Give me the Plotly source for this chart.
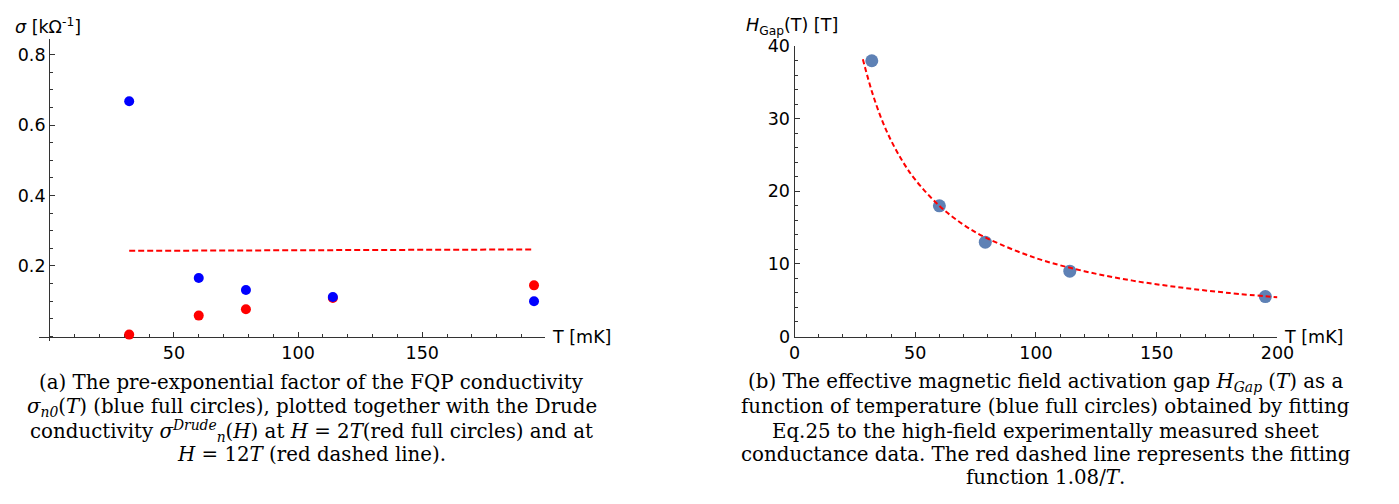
import plotly.graph_objects as go

W, H = 1399, 504

# ---------------- data ----------------
T_points = [32, 60, 79, 114, 195]                      # temperature [mK]
sigma_n0 = [0.668, 0.166, 0.132, 0.112, 0.100]         # blue full circles
sigma_drude_2T = [0.005, 0.059, 0.077, 0.109, 0.145]   # red full circles
T_drude_12T = [32, 195]                                # red dashed line
sigma_drude_12T = [0.243, 0.247]

H_gap = [38.0, 18.0, 13.0, 9.0, 5.5]                   # [T]
T_fit = [28.3, 32, 36, 40, 45, 50, 60, 70, 80, 100, 120, 140, 160, 180, 200]
H_fit = [38.2, 33.8, 30.0, 27.0, 24.0, 21.6, 18.0, 15.4, 13.5, 10.8, 9.0, 7.7, 6.75, 6.0, 5.4]

left_xticks = [50, 100, 150]
left_yticks = [0.2, 0.4, 0.6, 0.8]
right_xticks = [0, 50, 100, 150, 200]
right_yticks = [0, 10, 20, 30, 40]

caption_a = [
    "(a) The pre-exponential factor of the FQP conductivity",
    "<i>σ<sub>n0</sub></i>(<i>T</i>) (blue full circles), plotted together with the Drude",
    "conductivity <i>σ</i><sup><i>Drude</i></sup><sub><i>n</i></sub>(<i>H</i>) at <i>H</i> = 2<i>T</i>(red full circles) and at",
    "<i>H</i> = 12<i>T</i> (red dashed line).",
]
caption_b = [
    "(b) The effective magnetic field activation gap <i>H<sub>Gap</sub></i> (<i>T</i>) as a",
    "function of temperature (blue full circles) obtained by fitting",
    "Eq.25 to the high-field experimentally measured sheet",
    "conductance data. The red dashed line represents the fitting",
    "function 1.08/<i>T</i>.",
]


def px(x):
    return x / W


def py(y):
    return (H - y) / H


AXC = "#333333"
FS = 17.5
TICKFONT = dict(family="DejaVu Sans", size=FS, color="black")

fig = go.Figure()

# left panel
fig.add_trace(go.Scatter(x=T_drude_12T, y=sigma_drude_12T, mode="lines",
                         line=dict(color="#ff0000", width=2, dash="6px,3px"),
                         xaxis="x", yaxis="y", showlegend=False))
fig.add_trace(go.Scatter(x=T_points, y=sigma_drude_2T, mode="markers",
                         marker=dict(color="#ff0000", size=10),
                         xaxis="x", yaxis="y", showlegend=False, cliponaxis=False))
fig.add_trace(go.Scatter(x=T_points, y=sigma_n0, mode="markers",
                         marker=dict(color="#0000ff", size=10),
                         xaxis="x", yaxis="y", showlegend=False, cliponaxis=False))

# right panel
fig.add_trace(go.Scatter(x=T_points, y=H_gap, mode="markers",
                         marker=dict(color="#5e81b5", size=13),
                         xaxis="x2", yaxis="y2", showlegend=False, cliponaxis=False))
fig.add_trace(go.Scatter(x=T_fit, y=H_fit, mode="lines", line_shape="spline",
                         line=dict(color="#ff0000", width=2, dash="5px,3px"),
                         xaxis="x2", yaxis="y2", showlegend=False, cliponaxis=False))

common = dict(showgrid=False, zeroline=False, showline=True, linecolor=AXC, linewidth=1,
              ticks="inside", ticklen=5, tickcolor=AXC, tickfont=TICKFONT,
              layer="below traces")

fig.update_layout(
    width=W, height=H, margin=dict(l=0, r=0, t=0, b=0),
    paper_bgcolor="white", plot_bgcolor="white",
    xaxis=dict(**common, domain=[px(33.6), px(547.7)], range=[-4.3, 199.3],
               anchor="free", position=py(340),
               tickmode="array", tickvals=left_xticks, ticktext=[str(v) for v in left_xticks],
               minor=dict(tick0=0, dtick=10, ticks="inside", ticklen=3, tickcolor=AXC)),
    yaxis=dict(**common, domain=[py(345), py(30.5)], range=[-0.014, 0.844],
               anchor="free", position=px(43.8),
               tickmode="array", tickvals=left_yticks, ticktext=[str(v) for v in left_yticks],
               minor=dict(tick0=0, dtick=0.05, ticks="inside", ticklen=3, tickcolor=AXC)),
    xaxis2=dict(**common, domain=[px(801.7), px(1292.7)], range=[0, 200], anchor="y2",
                tickmode="array", tickvals=right_xticks, ticktext=[str(v) for v in right_xticks],
                minor=dict(tick0=0, dtick=10, ticks="inside", ticklen=3, tickcolor=AXC)),
    yaxis2=dict(**common, domain=[py(340), py(37.7)], range=[0, 40], anchor="x2",
                tickmode="array", tickvals=right_yticks, ticktext=[str(v) for v in right_yticks],
                minor=dict(tick0=0, dtick=2, ticks="inside", ticklen=3, tickcolor=AXC)),
)

ann = []
lab = dict(family="DejaVu Sans", size=FS, color="black")
ann.append(dict(text="<i>σ</i> [kΩ<sup>-1</sup>]", x=px(7), y=py(17), xanchor="left",
                yanchor="middle", showarrow=False, font=lab, xref="paper", yref="paper"))
ann.append(dict(text="T [mK]", x=px(553), y=py(340.5), xanchor="left",
                yanchor="middle", showarrow=False, font=lab, xref="paper", yref="paper"))
ann.append(dict(text="<i>H</i><sub>Gap</sub>(T) [T]", x=px(750.5), y=py(17), xanchor="left",
                yanchor="middle", showarrow=False, font=lab, xref="paper", yref="paper"))
ann.append(dict(text="T [mK]", x=px(1297), y=py(340.5), xanchor="left",
                yanchor="middle", showarrow=False, font=lab, xref="paper", yref="paper"))

capfont = dict(family="DejaVu Serif", size=19.8, color="black")
ya = [388.3, 413.5, 438.5, 463.3]
for t, y in zip(caption_a, ya):
    ann.append(dict(text=t, x=px(311), y=py(y), xanchor="center", yanchor="middle",
                    showarrow=False, font=capfont, xref="paper", yref="paper"))
yb = [388.3, 413.3, 438.5, 463.3, 486.7]
for t, y in zip(caption_b, yb):
    ann.append(dict(text=t, x=px(1057), y=py(y), xanchor="center", yanchor="middle",
                    showarrow=False, font=capfont, xref="paper", yref="paper"))

fig.update_layout(annotations=ann)
fig.write_html("out.html")
